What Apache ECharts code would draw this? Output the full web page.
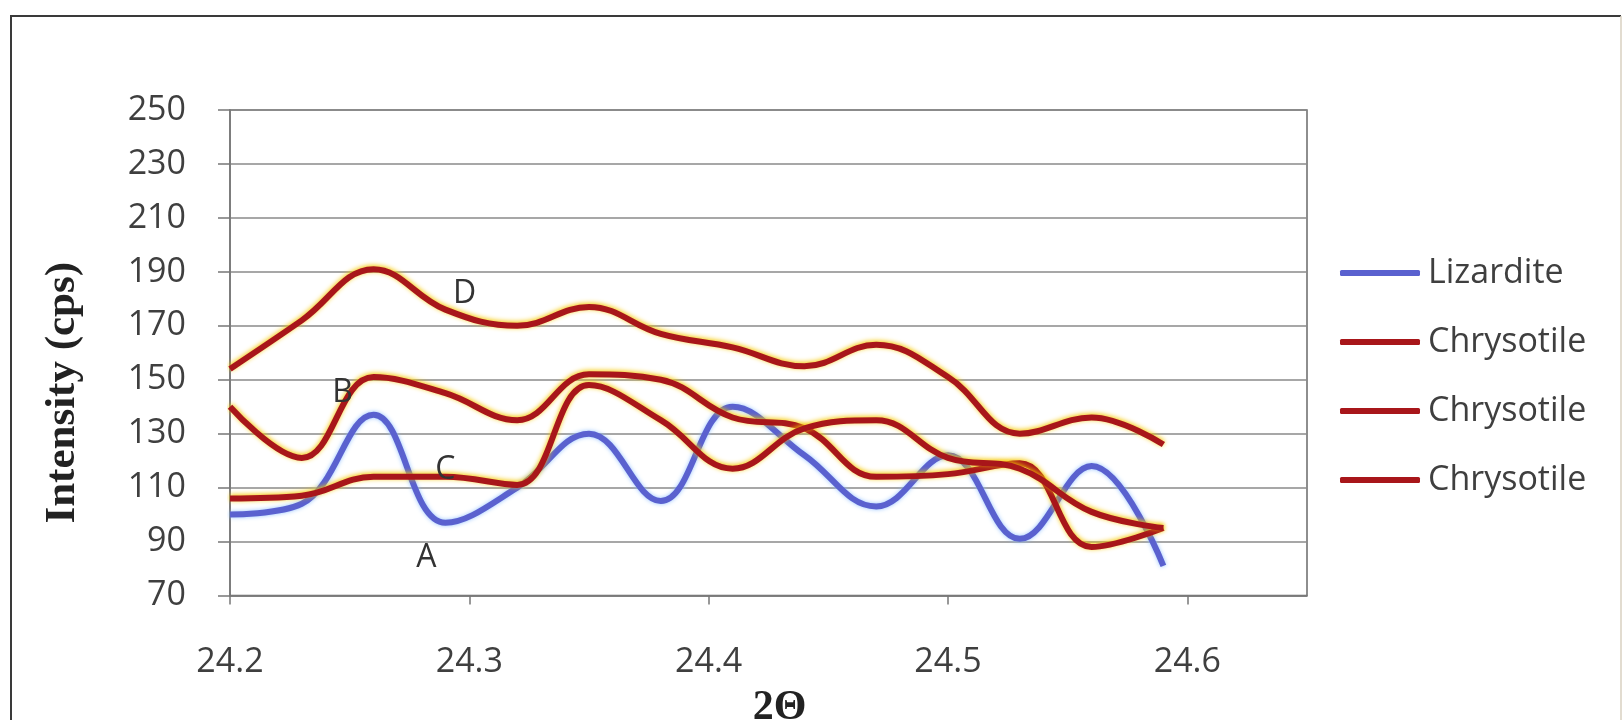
<!DOCTYPE html>
<html>
<head>
<meta charset="utf-8">
<script src="https://cdn.jsdelivr.net/npm/echarts@6/dist/echarts.min.js"></script>
<style>
  html, body { margin: 0; padding: 0; background: #fff; }
  #chart { width: 1624px; height: 720px; }
</style>
</head>
<body>
<div id="chart"></div>
<script>
// 2-theta positions (step 0.03)
const twoTheta = [24.20, 24.23, 24.26, 24.29, 24.32, 24.35, 24.38, 24.41, 24.44, 24.47, 24.50, 24.53, 24.56, 24.59];

// intensities (cps)
const lizardite   = [100, 104, 137, 97, 110, 130, 105, 140, 122, 103, 122, 91, 118, 81];
const chrysotileB = [140, 121, 151, 145, 135, 152, 150, 136, 132, 114, 115, 119, 88, 95];
const chrysotileC = [106, 107, 114, 114, 111, 148, 135, 117, 132, 135, 121, 117, 101, 95];
const chrysotileD = [154, 172, 191, 176, 170, 177, 167, 162, 155, 163, 151, 130, 136, 126];

// curve letters placed in data space
const letterNames = ['A', 'B', 'C', 'D'];
const letterX = [24.282, 24.247, 24.290, 24.298];
const letterY = [84, 145, 116.5, 182];

const textFont = '"Open Sans", sans-serif';
const textColor = '#3f3f3f';

function pairs(ys) {
  return twoTheta.map((x, i) => [x, ys[i]]);
}

const redLine = {
  color: '#a8161a',
  width: 6,
  shadowColor: '#f5c800',
  shadowBlur: 5,
  shadowOffsetY: -1
};

function chrysotile(name, ys) {
  return {
    name: name,
    type: 'line',
    smooth: 0.4,
    showSymbol: false,
    color: '#a8161a',
    lineStyle: redLine,
    data: pairs(ys)
  };
}

const chart = echarts.init(document.getElementById('chart'));

chart.setOption({
  animation: false,
  backgroundColor: '#fff',
  graphic: [
    {
      type: 'polyline',
      shape: { points: [[11, 800], [11, 16], [1621, 16]] },
      style: { stroke: '#3a3a3a', lineWidth: 2, fill: null }
    },
    {
      type: 'line',
      shape: { x1: 1621, y1: 16, x2: 1621, y2: 800 },
      style: { stroke: '#d8d0c0', lineWidth: 1.5 }
    }
  ],
  grid: {
    left: 230, top: 110, right: 317, bottom: 124.5,
    show: true, borderColor: '#6a6a6a', borderWidth: 1.5,
    containLabel: false,
    outerBoundsMode: 'none'
  },
  legend: {
    orient: 'vertical',
    left: 1335, top: 251,
    itemWidth: 80, itemHeight: 6,
    itemGap: 35,
    icon: 'roundRect',
    formatter: n => n.trim(),
    textStyle: { fontFamily: textFont, fontSize: 34, color: textColor, padding: [0, 0, 0, 3] },
    data: ['Lizardite', 'Chrysotile', 'Chrysotile ', 'Chrysotile  ']
  },
  xAxis: {
    type: 'value',
    min: 24.2, max: 24.65, interval: 0.1,
    name: '2\u0398',
    nameLocation: 'middle',
    nameGap: 92,
    nameTextStyle: {
      fontFamily: '"Liberation Serif", serif', fontWeight: 'bold',
      fontSize: 42, color: '#222', padding: [0, 0, 0, 22]
    },
    axisLine: { onZero: false, lineStyle: { color: '#777', width: 1.5 } },
    axisTick: { length: 9, lineStyle: { color: '#777', width: 1.5 } },
    axisLabel: {
      margin: 50, showMaxLabel: false,
      fontFamily: textFont, fontSize: 34, color: textColor,
      formatter: v => v.toFixed(1)
    },
    splitLine: { show: false }
  },
  yAxis: {
    type: 'value',
    min: 70, max: 250, interval: 20,
    name: 'Intensity (cps)',
    nameLocation: 'middle',
    nameGap: 146,
    nameTextStyle: {
      fontFamily: '"Liberation Serif", serif', fontWeight: 'bold',
      fontSize: 43, color: '#222', padding: [0, 80, 0, 0]
    },
    axisLine: { show: true, lineStyle: { color: '#777', width: 1.5 } },
    axisTick: { show: true, length: 12, lineStyle: { color: '#777', width: 1.5 } },
    axisLabel: { margin: 44, fontFamily: textFont, fontSize: 34, color: textColor },
    splitLine: { lineStyle: { color: '#8a8a8a', width: 1.5 } }
  },
  series: [
    {
      name: 'Lizardite',
      type: 'line',
      smooth: 0.4,
      showSymbol: false,
      color: '#5a61cf',
      lineStyle: { color: '#5a61cf', width: 6, shadowColor: 'rgba(140,190,255,0.9)', shadowBlur: 4 },
      data: pairs(lizardite),
      markPoint: {
        symbol: 'circle', symbolSize: 1,
        itemStyle: { color: 'rgba(0,0,0,0)' },
        label: { show: true, position: 'inside', formatter: p => p.name,
                 fontFamily: textFont, fontSize: 32, color: '#333' },
        data: letterNames.map((n, i) => ({ name: n, coord: [letterX[i], letterY[i]] }))
      }
    },
    chrysotile('Chrysotile', chrysotileB),
    chrysotile('Chrysotile ', chrysotileC),
    chrysotile('Chrysotile  ', chrysotileD)
  ]
});
</script>
</body>
</html>
